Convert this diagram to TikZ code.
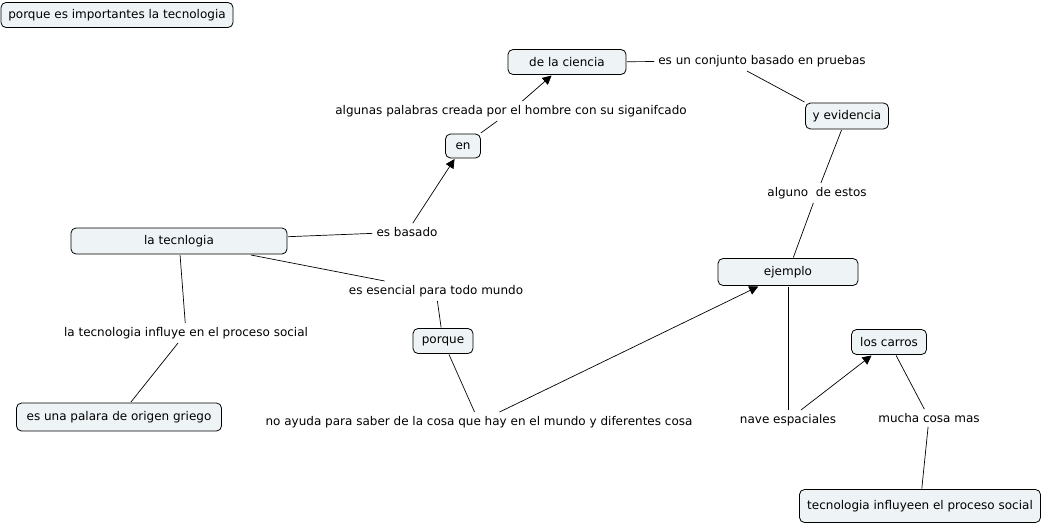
\documentclass[tikz,border=0pt]{standalone}
\usepackage{fontspec}
\setmainfont{DejaVu Sans}
\usetikzlibrary{arrows.meta}
\definecolor{conceptfill}{RGB}{238,243,245}
\newcommand{\mapfont}{\fontsize{12}{14}\selectfont}
\tikzset{
  concept/.style={draw=black,fill=conceptfill,rounded corners=5pt,line width=0.8pt,
    minimum height=25pt,inner sep=2pt,outer sep=1pt,font=\mapfont},
  linkphrase/.style={inner sep=4pt,font=\mapfont},
  link/.style={line width=0.7pt},
  linkarrow/.style={link,-{Triangle[length=9pt,width=9pt]}}
}
\begin{document}
\begin{tikzpicture}[x=1pt,y=-1pt]
  \useasboundingbox (0,0) rectangle (1043,525);

  % Concepts
  \node [concept,minimum width=232pt] (title) at (117,15) {porque es importantes la tecnologia};
  \node [concept,minimum width=118pt] (ciencia) at (567,62) {de la ciencia};
  \node [concept,minimum width=83pt,minimum height=26pt] (evidencia) at (847,116) {y evidencia};
  \node [concept,minimum width=35pt,minimum height=24pt] (en) at (463,146) {en};
  \node [concept,minimum width=216pt,minimum height=26pt] (tecno) at (179,241) {la tecnlogia};
  \node [concept,minimum width=140pt,minimum height=27pt] (ejemplo) at (788,272) {ejemplo};
  \node [concept,minimum width=60pt] (porque) at (443,341) {porque};
  \node [concept,minimum width=75pt] (carros) at (889,342) {los carros};
  \node [concept,minimum width=205pt,minimum height=28pt] (griego) at (119,417) {es una palara de origen griego};
  \node [concept,minimum width=241pt,minimum height=33pt] (social) at (920,506) {tecnologia influyeen el proceso social};

  % Linking phrases
  \node [linkphrase] (palabras) at (511,111) {algunas palabras creada por el hombre con su siganifcado};
  \node [linkphrase] (conjunto) at (762,61) {es un conjunto basado en pruebas};
  \node [linkphrase] (alguno) at (817,193) {alguno\ \ de estos};
  \node [linkphrase] (basado) at (407,232) {es basado};
  \node [linkphrase] (esencial) at (436,291) {es esencial para todo mundo};
  \node [linkphrase] (influye) at (186,333) {la tecnologia influye en el proceso social};
  \node [linkphrase] (ayuda) at (479,422) {no ayuda para saber de la cosa que hay en el mundo y diferentes cosa};
  \node [linkphrase] (nave) at (788,420) {nave espaciales};
  \node [linkphrase] (mucha) at (929,418) {mucha cosa mas};

  % Connectors
  \draw [link] (tecno) -- (basado);
  \draw [linkarrow] (basado) -- (en);
  \draw [link] (en) -- (palabras);
  \draw [linkarrow] (palabras) -- (ciencia);
  \draw [link] (ciencia) -- (conjunto);
  \draw [link] ([xshift=-15pt]conjunto.south) -- (evidencia.north west);
  \draw [link] (evidencia) -- (alguno);
  \draw [link] (alguno) -- (ejemplo);
  \draw [link] (tecno) -- (esencial);
  \draw [link] (esencial) -- (porque);
  \draw [link] (porque) -- (ayuda);
  \draw [linkarrow] (ayuda) -- (ejemplo);
  \draw [link] (ejemplo) -- (nave);
  \draw [linkarrow] (nave) -- (carros);
  \draw [link] (carros) -- (mucha);
  \draw [link] (mucha) -- (social);
  \draw [link] (tecno) -- (influye);
  \draw [link] (influye) -- (griego);
\end{tikzpicture}
\end{document}
